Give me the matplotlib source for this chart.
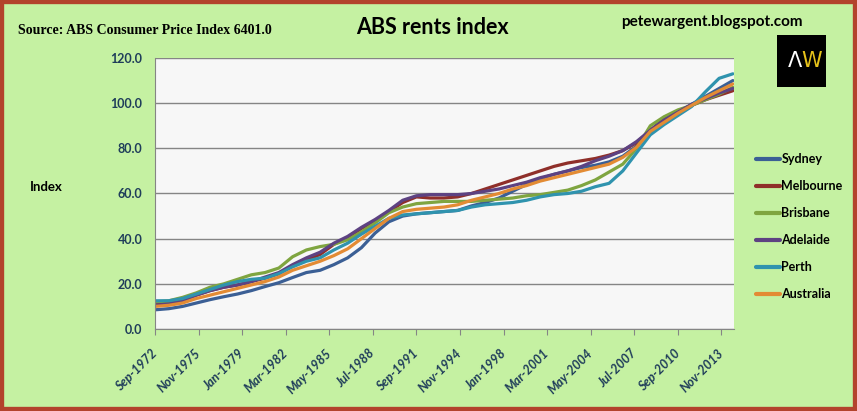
import matplotlib
matplotlib.use("Agg")
import matplotlib.pyplot as plt
from matplotlib.patches import Rectangle

# annual readings (Sep quarter) off the ABS rents index chart
years = list(range(1972, 2015))

sydney = [8.5, 9.0, 10.0, 11.5, 13.0, 14.3, 15.5, 17.0, 18.8, 20.5,
          22.8, 25.0, 26.0, 28.5, 31.5, 36.0, 42.5, 47.5, 50.0, 51.0,
          51.5, 52.0, 52.5, 54.5, 56.0, 58.0, 61.0, 64.0, 66.5, 68.5,
          70.0, 71.5, 72.5, 74.0, 76.5, 81.0, 87.0, 91.5, 95.5, 99.5,
          103.0, 106.5, 110.0]
melbourne = [11.0, 11.5, 13.0, 15.0, 17.0, 18.5, 19.5, 21.0, 22.5, 24.5,
             28.0, 30.5, 33.0, 37.5, 40.5, 44.5, 48.0, 52.0, 56.0, 58.5,
             58.0, 58.0, 58.5, 60.0, 62.0, 64.0, 66.0, 68.0, 70.0, 72.0,
             73.5, 74.5, 75.5, 77.0, 79.0, 82.5, 88.0, 93.0, 96.5, 99.0,
             101.5, 103.5, 105.5]
brisbane = [12.0, 12.5, 14.0, 16.0, 18.5, 20.0, 22.0, 24.0, 25.0, 27.0,
            32.0, 35.0, 36.5, 37.5, 39.5, 43.0, 47.0, 51.5, 54.0, 55.5,
            56.0, 56.5, 56.5, 56.5, 57.0, 57.5, 58.0, 59.0, 59.5, 60.5,
            61.5, 63.5, 66.0, 69.5, 73.0, 80.0, 90.0, 94.0, 97.0, 99.0,
            101.5, 104.0, 107.0]
adelaide = [10.5, 11.0, 12.5, 15.0, 17.0, 18.5, 19.5, 21.0, 23.0, 25.0,
            28.5, 31.5, 34.0, 38.0, 41.0, 45.0, 48.5, 52.5, 57.0, 59.0,
            59.5, 59.5, 59.5, 60.0, 61.0, 62.0, 63.5, 65.0, 67.0, 68.5,
            70.0, 72.0, 74.5, 76.5, 79.0, 83.0, 88.0, 92.5, 96.0, 99.5,
            102.0, 104.5, 106.5]
perth = [12.5, 12.5, 13.5, 15.5, 17.5, 19.5, 21.0, 22.0, 22.5, 24.5,
         27.5, 30.0, 31.5, 35.0, 38.0, 42.0, 45.5, 49.0, 50.5, 51.0,
         51.5, 52.0, 52.5, 54.0, 55.0, 55.5, 56.0, 57.0, 58.5, 59.5,
         60.0, 61.0, 63.0, 64.5, 70.0, 78.0, 86.0, 90.5, 94.5, 98.5,
         105.0, 111.0, 113.0]
australia = [10.0, 10.5, 11.5, 13.5, 15.0, 16.5, 18.0, 19.5, 21.0, 23.0,
             26.0, 28.0, 30.0, 32.5, 35.5, 40.0, 44.5, 49.0, 52.0, 53.0,
             53.5, 54.0, 55.0, 57.0, 58.5, 60.0, 62.0, 63.5, 65.5, 67.0,
             68.5, 70.0, 71.5, 73.0, 76.0, 80.5, 87.5, 91.5, 95.5, 99.0,
             102.5, 105.5, 108.5]

series = ["Sydney", "Melbourne", "Brisbane", "Adelaide", "Perth", "Australia"]
colours = ["#3b5f95", "#8f2f2a", "#7fa540", "#5d4282", "#2f93ae", "#e38b34"]

tick_labels = ["Sep-1972", "Nov-1975", "Jan-1979", "Mar-1982", "May-1985",
               "Jul-1988", "Sep-1991", "Nov-1994", "Jan-1998", "Mar-2001",
               "May-2004", "Jul-2007", "Sep-2010", "Nov-2013"]

MONTHS = {"Jan": 1, "Feb": 2, "Mar": 3, "Apr": 4, "May": 5, "Jun": 6,
          "Jul": 7, "Aug": 8, "Sep": 9, "Oct": 10, "Nov": 11, "Dec": 12}


def to_year(label):
    m, y = label.split("-")
    return int(y) + (MONTHS[m] - 1) / 12


x = [y + 8 / 12 for y in years]
ticks = [to_year(t) for t in tick_labels]

TEXT = "#1f3d5a"
SANS = ["Lato", "DejaVu Sans"]

fig = plt.figure(figsize=(8.57, 4.11), dpi=100)
fig.patch.set_facecolor("#c5f1a2")
fig.add_artist(Rectangle((0, 0), 1, 1, transform=fig.transFigure, fill=False,
                         edgecolor="#b3432c", lw=6))

ax = fig.add_axes([0.1809, 0.1995, 0.6756, 0.6594])
ax.set_facecolor("#f7f7f7")

data = [sydney, melbourne, brisbane, adelaide, perth, australia]
for name, vals, c in zip(series, data, colours):
    ax.plot(x, vals, color=c, lw=2.3, label=name, solid_capstyle="round")

ax.set_ylim(0, 120)
ax.set_yticks(range(0, 121, 20))
ax.set_yticklabels([f"{v:.1f}" for v in range(0, 121, 20)])
ax.set_xlim(ticks[0], 2014.75)
ax.set_xticks(ticks)
ax.set_xticklabels(tick_labels, rotation=45, ha="right", va="center",
                   rotation_mode="anchor", fontstyle="italic")

ax.grid(axis="y", color="#858585", lw=1)
ax.set_axisbelow(True)
for s in ["top", "right"]:
    ax.spines[s].set_visible(False)
for s in ["left", "bottom"]:
    ax.spines[s].set_color("#858585")

ax.tick_params(axis="y", length=0, pad=9, labelsize=9, labelcolor=TEXT)
ax.tick_params(axis="x", length=4, color="#858585", pad=12, labelsize=9,
               labelcolor=TEXT)
for lab in ax.get_xticklabels() + ax.get_yticklabels():
    lab.set_family(SANS)
    lab.set_fontweight("bold")

leg = ax.legend(loc="upper left", bbox_to_anchor=(745 / 857, 1 - 142 / 411),
                bbox_transform=fig.transFigure, frameon=False, handlelength=1.9,
                handletextpad=0.1, labelspacing=1.2,
                prop={"family": SANS, "weight": "bold", "size": 9})
for h in leg.get_lines():
    h.set_linewidth(3)

fig.text(30 / 857, 1 - 187 / 411, "Index", family=SANS, weight="bold",
         fontsize=9.5, va="center", ha="left")
fig.text(0.505, 1 - 28 / 411, "ABS rents index", family=SANS, weight="bold",
         fontsize=15.5, ha="center", va="center")
fig.text(18 / 857, 1 - 30 / 411, "Source: ABS Consumer Price Index 6401.0",
         family="Liberation Serif", weight="bold", fontsize=10, ha="left",
         va="center")
fig.text(712 / 857, 1 - 22 / 411, "petewargent.blogspot.com", family=SANS,
         weight="bold", fontsize=11, ha="center", va="center")

# AW logo
fig.add_artist(Rectangle((777 / 857, 1 - 87 / 411), 49 / 857, 52 / 411,
                         transform=fig.transFigure, facecolor="black",
                         edgecolor="none"))
fig.text(802 / 857, 1 - 61 / 411, "Λ", family=["DejaVu Sans"],
         fontsize=15, color="white", ha="right", va="center")
fig.text(801 / 857, 1 - 61 / 411, "W", family=["DejaVu Sans"],
         fontsize=15, color="#e6c21a", ha="left", va="center")

fig.savefig("out.png", dpi=100, facecolor=fig.get_facecolor())
